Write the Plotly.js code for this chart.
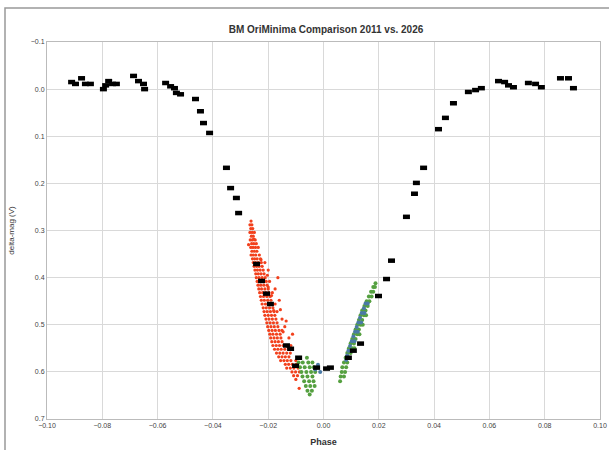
<!DOCTYPE html>
<html>
<head>
<meta charset="utf-8">
<script src="https://cdn.plot.ly/plotly-3.0.1.min.js"></script>
<style>html,body{margin:0;padding:0;background:#fff;}#chart{width:609px;height:450px;}</style>
</head>
<body>
<div id="chart"></div>
<script>
// 2011 light curve (black)
const phase2011 = [-0.0911,-0.0897,-0.0875,-0.0861,-0.0843,-0.0796,-0.0788,-0.0777,-0.0763,-0.0749,
  -0.0687,-0.0669,-0.0651,-0.0647,-0.0571,-0.0553,-0.0539,-0.0532,-0.0517,-0.0463,-0.0445,-0.0434,-0.0412,
  -0.0351,-0.0336,-0.0315,-0.0307,-0.0242,-0.0224,-0.0206,-0.0192,-0.0134,-0.0119,-0.0090,-0.0101,-0.0025,0.0011,0.0025,
  0.0090,0.0108,0.0134,0.0199,0.0228,0.0246,0.0300,0.0329,0.0336,0.0362,0.0416,0.0441,0.0470,0.0524,0.0550,0.0571,
  0.0633,0.0655,0.0669,0.0687,0.0741,0.0767,0.0788,0.0857,0.0886,0.0904];
const mag2011 = [-0.015,-0.011,-0.023,-0.011,-0.011,0.000,-0.008,-0.017,-0.011,-0.011,
  -0.028,-0.017,-0.011,0.000,-0.013,-0.006,-0.002,0.008,0.011,0.021,0.047,0.072,0.093,
  0.167,0.210,0.231,0.263,0.371,0.407,0.434,0.456,0.544,0.551,0.570,0.587,0.591,0.593,0.591,
  0.570,0.555,0.540,0.439,0.403,0.364,0.271,0.222,0.199,0.167,0.085,0.061,0.030,0.006,0.002,-0.002,
  -0.017,-0.015,-0.008,-0.004,-0.013,-0.011,-0.004,-0.023,-0.023,-0.002];

// 2026 descending branch (red)
const phaseRed = [
  -0.0262,
  -0.0259,-0.0266,
  -0.0263,-0.0256,
  -0.0266,-0.0258,-0.0250,
  -0.0261,-0.0254,
  -0.0265,-0.0257,-0.0247,
  -0.0260,-0.0252,-0.0243,
  -0.0263,-0.0255,-0.0246,-0.0236,
  -0.0259,-0.0250,-0.0241,
  -0.0262,-0.0254,-0.0245,-0.0232,
  -0.0257,-0.0249,-0.0240,-0.0228,
  -0.0254,-0.0246,-0.0236,-0.0225,-0.0212,
  -0.0251,-0.0242,-0.0233,-0.0222,
  -0.0248,-0.0239,-0.0229,-0.0218,-0.0200,
  -0.0245,-0.0236,-0.0226,-0.0215,
  -0.0243,-0.0233,-0.0222,-0.0211,-0.0165,
  -0.0240,-0.0230,-0.0219,-0.0207,-0.0195,
  -0.0237,-0.0227,-0.0216,-0.0204,
  -0.0234,-0.0224,-0.0212,-0.0200,-0.0175,
  -0.0231,-0.0220,-0.0209,-0.0197,-0.0185,
  -0.0228,-0.0217,-0.0205,-0.0193,
  -0.0225,-0.0214,-0.0202,-0.0190,-0.0160,
  -0.0222,-0.0210,-0.0198,-0.0186,-0.0175,
  -0.0218,-0.0207,-0.0195,-0.0183,
  -0.0215,-0.0204,-0.0192,-0.0179,-0.0168,
  -0.0212,-0.0200,-0.0188,-0.0176,
  -0.0208,-0.0197,-0.0185,-0.0172,-0.0150,
  -0.0205,-0.0193,-0.0181,-0.0168,
  -0.0202,-0.0190,-0.0178,-0.0165,-0.0140,
  -0.0198,-0.0186,-0.0174,-0.0161,-0.0150,
  -0.0194,-0.0183,-0.0170,-0.0157,
  -0.0191,-0.0179,-0.0167,-0.0154,-0.0125,
  -0.0187,-0.0175,-0.0163,-0.0150,
  -0.0183,-0.0171,-0.0159,-0.0146,-0.0118,
  -0.0177,-0.0165,-0.0153,-0.0140,
  -0.0170,-0.0158,-0.0146,-0.0133,-0.0120,
  -0.0162,-0.0150,-0.0138,-0.0125,
  -0.0155,-0.0143,-0.0131,-0.0118,-0.0100,
  -0.0138,-0.0126,-0.0113,-0.0098,
  -0.0133,-0.0120,-0.0107,-0.0092,
  -0.0114,-0.0101,-0.0087,
  -0.0108,-0.0094,
  -0.0100,
  -0.0088,
  -0.0271,-0.0252,-0.0226,-0.0203,-0.0188,-0.0156,-0.0135,-0.0112,-0.0180,-0.0146,-0.0128,-0.0200];
const magRed = [
  0.280,
  0.288,0.288,
  0.296,0.296,
  0.304,0.304,0.304,
  0.312,0.312,
  0.320,0.320,0.320,
  0.328,0.328,0.328,
  0.336,0.336,0.336,0.336,
  0.344,0.344,0.344,
  0.352,0.352,0.352,0.352,
  0.360,0.360,0.360,0.360,
  0.368,0.368,0.368,0.368,0.368,
  0.376,0.376,0.376,0.376,
  0.384,0.384,0.384,0.384,0.384,
  0.392,0.392,0.392,0.392,
  0.400,0.400,0.400,0.400,0.400,
  0.408,0.408,0.408,0.408,0.408,
  0.416,0.416,0.416,0.416,
  0.424,0.424,0.424,0.424,0.424,
  0.432,0.432,0.432,0.432,0.432,
  0.440,0.440,0.440,0.440,
  0.448,0.448,0.448,0.448,0.448,
  0.456,0.456,0.456,0.456,0.456,
  0.464,0.464,0.464,0.464,
  0.472,0.472,0.472,0.472,0.472,
  0.480,0.480,0.480,0.480,
  0.488,0.488,0.488,0.488,0.488,
  0.496,0.496,0.496,0.496,
  0.504,0.504,0.504,0.504,0.504,
  0.512,0.512,0.512,0.512,0.512,
  0.520,0.520,0.520,0.520,
  0.528,0.528,0.528,0.528,0.528,
  0.536,0.536,0.536,0.536,
  0.544,0.544,0.544,0.544,0.544,
  0.552,0.552,0.552,0.552,
  0.560,0.560,0.560,0.560,0.560,
  0.568,0.568,0.568,0.568,
  0.576,0.576,0.576,0.576,0.576,
  0.584,0.584,0.584,0.584,
  0.592,0.592,0.592,0.592,
  0.600,0.600,0.600,
  0.608,0.608,
  0.616,
  0.635,
  0.330,0.318,0.362,0.395,0.438,0.468,0.492,0.520,0.470,0.515,0.548,0.420];

// 2026 minimum and ascending branch (green)
const phaseGreen = [
  -0.0085,-0.0060,
  -0.0090,-0.0075,-0.0055,-0.0040,
  -0.0085,-0.0068,-0.0050,-0.0035,
  -0.0080,-0.0062,-0.0045,-0.0030,
  -0.0076,-0.0058,-0.0040,
  -0.0070,-0.0052,-0.0036,
  -0.0064,-0.0048,-0.0032,
  -0.0058,-0.0042,
  -0.0050,
  0.0060,
  0.0062,0.0074,
  0.0066,0.0078,
  0.0068,0.0082,
  0.0074,0.0086,
  0.0080,0.0092,
  0.0086,0.0098,
  0.0092,0.0104,0.0112,
  0.0098,0.0110,
  0.0104,0.0116,
  0.0110,0.0122,0.0130,
  0.0116,0.0128,
  0.0122,0.0134,0.0142,
  0.0128,0.0140,
  0.0134,0.0146,0.0154,
  0.0140,0.0152,
  0.0148,0.0160,
  0.0156,0.0166,
  0.0164,0.0174,
  0.0172,0.0180,
  0.0180,0.0186,
  0.0188];
const magGreen = [
  0.570,0.570,
  0.580,0.580,0.580,0.580,
  0.590,0.590,0.590,0.590,
  0.600,0.600,0.600,0.600,
  0.610,0.610,0.610,
  0.620,0.620,0.620,
  0.630,0.630,0.630,
  0.640,0.640,
  0.648,
  0.620,
  0.610,0.610,
  0.600,0.600,
  0.590,0.590,
  0.580,0.580,
  0.570,0.570,
  0.560,0.560,
  0.550,0.550,0.550,
  0.540,0.540,
  0.530,0.530,
  0.520,0.520,0.520,
  0.510,0.510,
  0.500,0.500,0.500,
  0.490,0.490,
  0.480,0.480,0.480,
  0.470,0.470,
  0.460,0.460,
  0.450,0.450,
  0.440,0.440,
  0.430,0.430,
  0.420,0.420,
  0.412];

// 2026 ascending branch (blue)
const phaseBlue = [0.0082,0.0086,0.0090,0.0100,0.0096,0.0102,0.0112,0.0108,0.0114,0.0124,0.0120,0.0126,0.0136,0.0132,0.0138,0.0148,0.0146,0.0152,0.0160,
  -0.0030,-0.0012,-0.0020];
const magBlue = [0.575,0.565,0.555,0.555,0.545,0.535,0.535,0.525,0.515,0.515,0.505,0.495,0.495,0.485,0.475,0.475,0.465,0.455,0.455,
  0.595,0.600,0.585];

const L = 47, R = 9, T = 42, B = 31, W = 609, H = 450;
const pw = W - L - R, ph = H - T - B;
function px(x){ return (x - L) / pw; }
function py(y){ return (H - B - y) / ph; }

const traces = [
  {x: phaseRed, y: magRed, mode: 'markers', type: 'scatter',
   marker: {color: '#f2401c', size: 3.2, symbol: 'circle'}, hoverinfo: 'skip'},
  {x: phaseGreen, y: magGreen, mode: 'markers', type: 'scatter',
   marker: {color: '#55a040', size: 4, symbol: 'circle'}, hoverinfo: 'skip'},
  {x: phaseBlue, y: magBlue, mode: 'markers', type: 'scatter',
   marker: {color: '#4a7aa6', size: 4, symbol: 'circle'}, hoverinfo: 'skip'},
  {x: phase2011, y: mag2011, mode: 'markers', type: 'scatter',
   marker: {color: '#000', size: 5, symbol: 'line-ew-open', line: {color: '#000', width: 4.5}}, hoverinfo: 'skip'}
];

const layout = {
  width: W, height: H,
  margin: {l: L, r: R, t: T, b: B, pad: 0},
  paper_bgcolor: '#fff', plot_bgcolor: '#fff',
  showlegend: false,
  font: {family: 'Liberation Sans, Arial, sans-serif', color: '#333'},
  title: {text: '<b>BM OriMinima Comparison 2011 vs. 2026</b>', font: {size: 10, color: '#333'},
          x: 326 / W, xanchor: 'center', y: 1 - 29 / H, yanchor: 'middle'},
  xaxis: {range: [-0.10, 0.10], dtick: 0.02, tick0: -0.10, tickformat: '.2f',
          showgrid: true, gridcolor: '#d9d9d9', gridwidth: 1, zeroline: false,
          showline: true, linecolor: '#bbb', mirror: true, ticks: '',
          tickfont: {size: 7, color: '#444'},
          title: {text: '<b>Phase</b>', font: {size: 9, color: '#333'}, standoff: 10}},
  yaxis: {range: [0.7, -0.1], dtick: 0.1, tick0: -0.1, tickformat: '.1f',
          showgrid: true, gridcolor: '#d9d9d9', gridwidth: 1, zeroline: false,
          showline: true, linecolor: '#bbb', mirror: true, ticks: '',
          tickfont: {size: 7, color: '#444'},
          title: {text: 'delta-mag (V)', font: {size: 8, color: '#333'}, standoff: 14}},
  shapes: [
    {type: 'rect', xref: 'paper', yref: 'paper', x0: px(5), x1: px(615), y0: py(458), y1: py(8),
     line: {color: '#999', width: 1.5}, fillcolor: 'rgba(0,0,0,0)', layer: 'below'}
  ]
};

Plotly.newPlot('chart', traces, layout, {staticPlot: true, displayModeBar: false});
</script>
</body>
</html>
